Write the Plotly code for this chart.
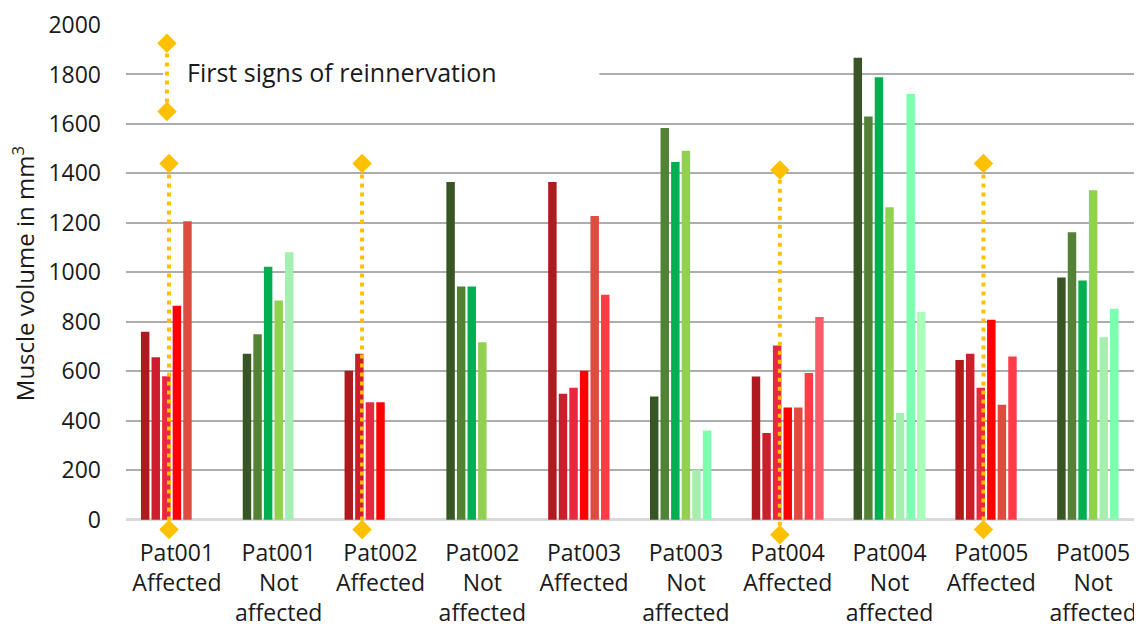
import plotly.graph_objects as go

categories = ["Pat001<br>Affected", "Pat001<br>Not<br>affected", "Pat002<br>Affected",
              "Pat002<br>Not<br>affected", "Pat003<br>Affected", "Pat003<br>Not<br>affected",
              "Pat004<br>Affected", "Pat004<br>Not<br>affected", "Pat005<br>Affected",
              "Pat005<br>Not<br>affected"]
affected = [True, False, True, False, True, False, True, False, True, False]

# muscle volume per time point (mm^3)
tp1 = [760, 671, 602, 1365, 1365, 498, 579, 1868, 646, 979]
tp2 = [657, 750, 671, 943, 509, 1584, 350, 1630, 671, 1162]
tp3 = [580, 1023, 475, 943, 533, 1446, 704, 1789, 533, 967]
tp4 = [865, 886, 475, 717, 602, 1492, 454, 1263, 808, 1332]
tp5 = [1207, 1081, None, None, 1228, 202, 454, 431, 465, 738]
tp6 = [None, None, None, None, 909, 361, 593, 1721, 660, 853]
tp7 = [None, None, None, None, None, None, 819, 840, None, None]
series = [tp1, tp2, tp3, tp4, tp5, tp6, tp7]

red_shades = ["#AE1A1E", "#CC1F2B", "#E8283E", "#FF0000", "#E04B3F", "#FF3B47", "#FF5A68"]
green_shades = ["#375623", "#538135", "#00B050", "#92D050", "#A3F0B0", "#7CFFAE", "#AAFFBB"]

# first signs of reinnervation: category index, after which time point, top / bottom of marker line
reinn_cat = [0, 2, 6, 8]
reinn_tp = [3, 2, 3, 3]
reinn_top = [1440, 1440, 1414, 1440]
reinn_bottom = [-40, -40, -61, -40]

legend_label = "First signs of reinnervation"
legend_top = 1926
legend_bottom = 1650

FONT = "Open Sans"
bargap = 0.273
bargroupgap = 0.2
n_tp = len(series)
slot = (1 - bargap) / n_tp

fig = go.Figure()
xs = list(range(len(categories)))
for i, vals in enumerate(series):
    cols = [red_shades[i] if a else green_shades[i] for a in affected]
    fig.add_trace(go.Bar(x=xs, y=vals, marker=dict(color=cols, line=dict(width=0)),
                         showlegend=False, name="T%d" % (i + 1)))

orange = "#FFC000"
for c, tp, top, bot in zip(reinn_cat, reinn_tp, reinn_top, reinn_bottom):
    xpos = c - (1 - bargap) / 2 + tp * slot - slot * bargroupgap / 2 - 0.015
    fig.add_trace(go.Scatter(x=[xpos, xpos], y=[bot, top], mode="lines+markers",
                             line=dict(color=orange, width=4, dash="4px,5px"),
                             marker=dict(symbol="diamond", size=15, color=orange),
                             cliponaxis=False, showlegend=False))

# legend-like key
leg_x = -0.098
fig.add_shape(type="rect", xref="x", yref="y", x0=-0.135, x1=4.15, y0=1700, y1=1900,
              fillcolor="white", line=dict(width=0), layer="between")
fig.add_trace(go.Scatter(x=[leg_x, leg_x], y=[legend_bottom, legend_top], mode="lines+markers",
                         line=dict(color=orange, width=4, dash="4px,5px"),
                         marker=dict(symbol="diamond", size=15, color=orange),
                         cliponaxis=False, showlegend=False))
fig.add_annotation(x=0.075, y=1810, xref="x", yref="y", text=legend_label, showarrow=False,
                   xanchor="left", yanchor="middle", font=dict(family=FONT, size=25, color="#1a1a1a"))

fig.add_annotation(x=-0.101, y=994, xref="paper", yref="y", text="Muscle volume in mm<sup>3</sup>",
                   textangle=-90, showarrow=False, xanchor="center", yanchor="middle",
                   font=dict(family=FONT, size=24, color="#1a1a1a"))

# page body has an 8px default margin: the figure is sized so it fills the 1142x628 window
fig.update_layout(
    width=1134, height=620,
    margin=dict(l=118, r=0, t=16, b=91),
    paper_bgcolor="white", plot_bgcolor="white",
    barmode="group", bargap=bargap, bargroupgap=bargroupgap,
    font=dict(family=FONT, size=23, color="#1a1a1a"),
    xaxis=dict(range=[-0.5, 9.48], tickmode="array", tickvals=xs, ticktext=categories,
               showgrid=False, zeroline=False, showline=False, ticks="",
               tickfont=dict(family=FONT, size=23), automargin=False),
    yaxis=dict(range=[-70, 2004], tick0=0, dtick=200, showgrid=True, gridcolor="#ADADAD",
               gridwidth=1.5, zeroline=True, zerolinecolor="#D9D9D9", zerolinewidth=3,
               showline=False, ticks="", ticklabelstandoff=24,
               tickfont=dict(family=FONT, size=23), automargin=False),
)

fig.write_html("out.html")
